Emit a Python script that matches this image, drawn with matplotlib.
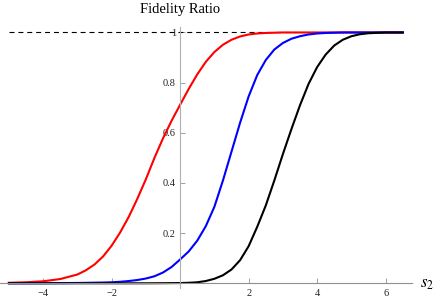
import matplotlib
matplotlib.use("Agg")
import matplotlib.pyplot as plt

s2 = [-5.0, -4.5, -4.0, -3.5,
      -3.0, -2.75, -2.5, -2.25, -2.0, -1.75, -1.5, -1.25, -1.0, -0.75, -0.5, -0.25,
      0.0, 0.25, 0.5, 0.75, 1.0, 1.25, 1.5, 1.75, 2.0, 2.25, 2.5, 2.75,
      3.0, 3.25, 3.5, 3.75, 4.0, 4.25, 4.5, 4.75, 5.0, 5.25, 5.5,
      6.0, 6.5]

red = [0.002, 0.004, 0.008, 0.017,
       0.035, 0.052, 0.075, 0.107, 0.15, 0.203, 0.265, 0.337, 0.415, 0.50, 0.578, 0.648,
       0.712, 0.775, 0.833, 0.883, 0.922, 0.951, 0.971, 0.984, 0.992, 0.996, 0.998, 0.999,
       1.0, 1.0, 1.0, 1.0, 1.0, 1.0, 1.0, 1.0, 1.0, 1.0, 1.0,
       1.0, 1.0]

blue = [0.0, 0.0002, 0.0004, 0.0008,
        0.0013, 0.0018, 0.0024, 0.003, 0.004, 0.006, 0.009, 0.013, 0.019, 0.028, 0.043, 0.065,
        0.095, 0.127, 0.17, 0.228, 0.305, 0.41, 0.525, 0.64, 0.745, 0.83, 0.89, 0.932,
        0.958, 0.975, 0.985, 0.992, 0.996, 0.998, 0.999, 1.0, 1.0, 1.0, 1.0,
        1.0, 1.0]

black = [0.0, 0.0, 0.0, 0.0,
         0.0, 0.0, 0.0, 0.0, 0.0, 0.0, 0.0, 0.0, 0.0, 0.0002, 0.0004, 0.0007,
         0.001, 0.002, 0.004, 0.009, 0.018, 0.032, 0.055, 0.092, 0.148, 0.225, 0.31, 0.41,
         0.515, 0.615, 0.71, 0.795, 0.862, 0.912, 0.948, 0.971, 0.985, 0.993, 0.997,
         1.0, 1.0]

xticks = [-4, -2, 2, 4, 6]
yticks = [0.2, 0.4, 0.6, 0.8, 1.0]
ytick_labels = ["0.2", "0.4", "0.6", "0.8", "1"]

plt.rcParams["font.family"] = ["Liberation Serif", "DejaVu Serif"]
plt.rcParams["mathtext.fontset"] = "stix"

W, H = 436, 300
fig = plt.figure(figsize=(W / 100, H / 100), dpi=100)
# axes box in pixels: x -5.26..6.77, y -0.02..1.023
left, right, top, bottom = 0.0, 412.0, 26.7, 288.3
ax = fig.add_axes([left / W, 1 - bottom / H, (right - left) / W, (bottom - top) / H])
ax.set_xlim(-5.26, 6.77)
ax.set_ylim(-0.02, 1.023)

ax.plot([s2[0], s2[-1]], [1, 1], color="black", lw=0.8, dashes=(4.5, 3.5))
ax.plot(s2, red, color="red", lw=1.5)
ax.plot(s2, blue, color="blue", lw=1.5)
ax.plot(s2, black, color="black", lw=1.5)

for side in ("top", "right"):
    ax.spines[side].set_visible(False)
ax.spines["left"].set_position(("data", 0))
ax.spines["bottom"].set_position(("data", 0))
ax.spines["left"].set_color("#b0b0b0")
ax.spines["bottom"].set_color("#909090")
ax.spines["left"].set_linewidth(0.8)
ax.spines["bottom"].set_linewidth(0.8)

ax.set_xticks(xticks)
ax.set_xticklabels([str(t).replace("-", "\u2212") for t in xticks])
ax.set_yticks(yticks)
ax.set_yticklabels(ytick_labels)
ax.tick_params(axis="both", direction="in", length=3.5, width=0.6, color="#909090",
               labelsize=7.5, labelcolor="#222222")
ax.tick_params(axis="x", pad=4)
ax.tick_params(axis="y", pad=3)

fig.text(180 / W, 1 - 10 / H, "Fidelity Ratio", ha="center", va="center", fontsize=10.5)
fig.text(427 / W, 1 - 284 / H, "$s_2$", ha="center", va="center", fontsize=12)

fig.savefig("out.png", dpi=100)
